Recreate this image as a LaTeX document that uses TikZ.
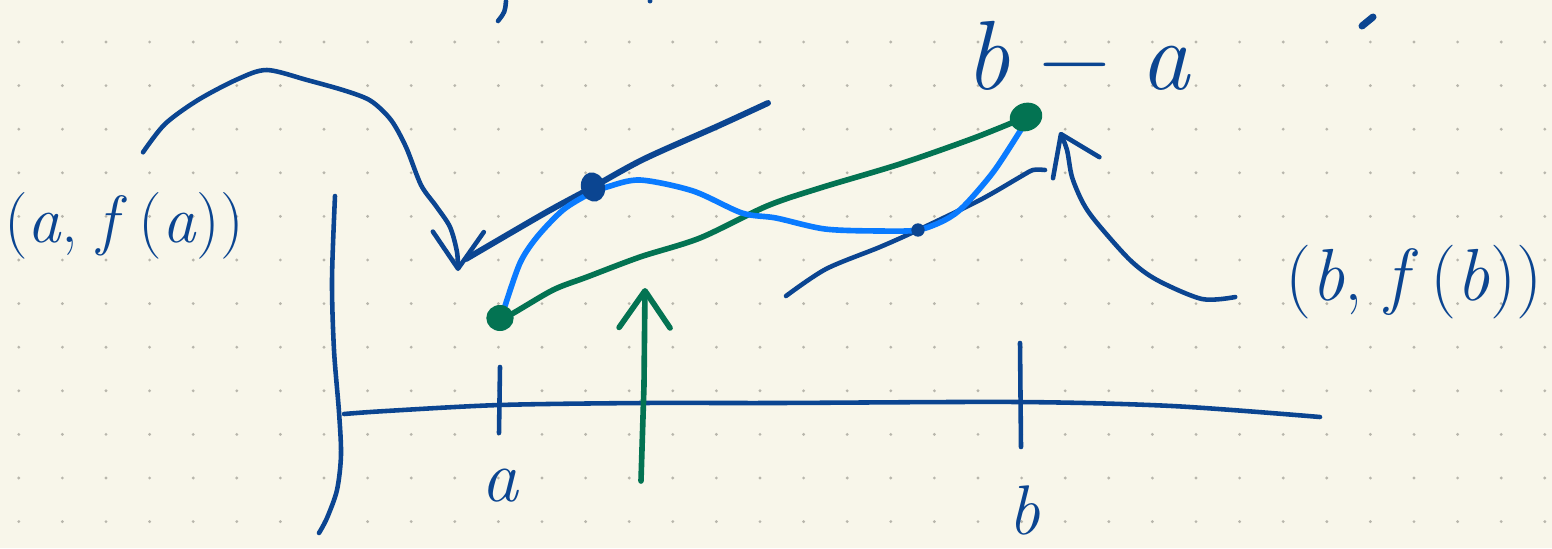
\documentclass[tikz,border=0pt]{standalone}
\usepackage{fontspec}
\usepackage{tikz}
\usetikzlibrary{calc,arrows.meta}
\usepackage{xcolor}
\definecolor{paper}{HTML}{F8F6EA}
\definecolor{griddot}{HTML}{B8B6AC}
\definecolor{ink}{HTML}{0B4591}
\definecolor{skyink}{HTML}{0A7BFF}
\definecolor{greenink}{HTML}{037352}
\tikzset{
  pen/.style={draw=ink,line width=2.6pt,line cap=round,line join=round},
  thickpen/.style={pen,line width=3.4pt},
  skypen/.style={draw=skyink,line width=3.2pt,line cap=round,line join=round},
  greenpen/.style={draw=greenink,line width=3.2pt,line cap=round,line join=round},
  barb/.style={-{Straight Barb[round,length=21pt,width=29pt]}},
  hand/.style={text=ink,inner sep=0pt}
}

\begin{document}
\begin{tikzpicture}[x=0.02cm,y=-0.02cm]
\fill[paper] (0,0) rectangle (1552,548);
\useasboundingbox (0,0) rectangle (1552,548);
% dot grid
\foreach \i in {0,...,35} {
    \foreach \j in {0,...,11} {
        \fill[griddot] ({18.8+43.6*\i},{42+43.6*\j}) circle (0.9pt);
    }
}
% bits of writing cut off at the top
\draw[pen] (506,1) .. controls (505,12) .. (498,21);
\fill[ink] (650,1) circle (1.4pt);
\draw[pen,line width=4pt] (1373,17) -- (1362,26);
% axes
\draw[pen] plot[smooth] coordinates {(335,196) (332,280) (334,350) (339,412) (341,455) (337,490) (327,518) (319,533)};
\draw[pen] plot[smooth] coordinates {(344,414) (386,411) (500,405) (643,403) (776,403) (1018,402) (1172,406) (1320,417)};
\draw[pen] (500,367) -- (499,433);
\draw[pen] (1020,343) -- (1021,447);
\node (labelA) at (500,486) [hand,font=\fontsize{42}{44}\selectfont\itshape] {a};
\node (labelB) at (1024,510) [hand,font=\fontsize{40}{42}\selectfont\itshape] {b};
% points
\coordinate (pa) at (500,318);
\coordinate (pb) at (1026,117);
\coordinate (pc) at (593,187);
\coordinate (pd) at (918,230);
% tangent lines
\draw[thickpen] plot[smooth] coordinates {(466,259) (545,213) (pc) (644,159) (718,126) (768,103)};
\draw[pen] plot[smooth] coordinates {(786,296) (826,269) (880,247) (pd) (980,200) (1020,177) (1033,170) (1045,170)};
% secant
\draw[greenpen] plot[smooth] coordinates {(pa) (510,315) (553,290) (587,277) (640,257) (700,238) (767,206) (820,188) (900,164) (974,138) (pb)};
% curve f
\draw[skypen] plot[smooth] coordinates {(505,306) (520,263) (537,237) (563,210) (589,194) (607,187) (640,180) (693,191) (742,213) (776,218) (825,229) (880,231) (pd) (945,220) (964,206) (994,171) (1022,128)};
\fill[greenink] (pa) ellipse (7.8pt and 7.4pt);
\fill[greenink,rotate around={20:(pb)}] (pb) ellipse (9.4pt and 8pt);
\fill[ink,rotate around={15:(pc)}] (pc) ellipse (6.8pt and 8.4pt);
\fill[ink] (pd) circle (3.8pt);
% labels
\node (labelFA) at (124,226) [hand,font=\fontsize{38}{40}\selectfont] {(\textit{a}, \textit{f}\,(\textit{a}))};
\node (labelFB) at (1414,282) [hand,font=\fontsize{42}{44}\selectfont] {(\textit{b}, \textit{f}\,(\textit{b}))};
\node (labelBA) at (1078,56) [hand,font=\fontsize{56}{60}\selectfont] {\textit{b} − \textit{a}};
% arrows
\coordinate (tipFA) at (458,271);
\coordinate (tipFB) at (1060,132);
\coordinate (tipC) at (645,288);
\draw[pen,barb] plot[smooth] coordinates {($(labelFA.north)+(19,-40)$) (165,124) (198,100) (238,79) (267,70) (307,80) (346,91) (371,101) (391,120) (406,147) (421,185) (436,206) (450,227) (457,252) (tipFA)};
\draw[pen,barb] plot[smooth] coordinates {($(labelFB.west)+(-50,15)$) (1202,299) (1157,280) (1130,260) (1097,223) (1083,203) (1072,177) (1067,150) (tipFB)};
\draw[greenpen,barb] (641,481) -- (644,385) -- (tipC);
\end{tikzpicture}
\end{document}
